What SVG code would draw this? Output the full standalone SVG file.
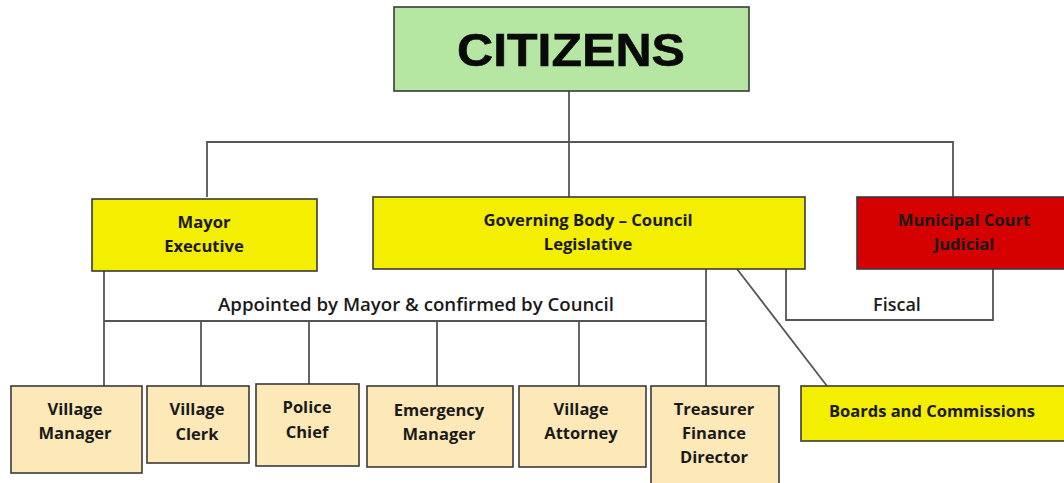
<svg xmlns="http://www.w3.org/2000/svg" width="1064" height="483" viewBox="0 0 1064 483">
  <style>
    .box { stroke: #3a3a3a; stroke-width: 1.6; }
    .green { fill: #b5e6a2; }
    .yellow { fill: #f4ee00; }
    .red { fill: #d50000; }
    .tan { fill: #fde9b7; }
    .lbl { font-family: "Open Sans", "Liberation Sans", sans-serif; font-weight: 700; font-size: 16.6px; fill: #1a1a1a; text-anchor: middle; }
    .small { font-size: 16.5px; }
    .note { font-family: "Open Sans", "Liberation Sans", sans-serif; font-weight: 600; font-size: 18px; fill: #1a1a1a; text-anchor: middle; }
    .title { font-family: "Liberation Sans", Arial, sans-serif; font-weight: 700; font-size: 47px; fill: #0a0a0a; text-anchor: middle; stroke: #0a0a0a; stroke-width: 0.6; }
    .wire { fill: none; stroke: #555555; stroke-width: 1.8; }
  </style>

  <!-- connectors -->
  <g id="connectors" class="wire">
    <path d="M569 91 V142"/>
    <path d="M207 197 V142 H953 V197"/>
    <path d="M569 142 V197"/>
    <!-- appointed staff bus -->
    <path d="M104 271 V386"/>
    <path d="M104 321 H706"/>
    <path d="M706 269 V386"/>
    <path d="M201 321 V386"/>
    <path d="M309 321 V384"/>
    <path d="M437 321 V386"/>
    <path d="M579 321 V386"/>
    <!-- fiscal link -->
    <path d="M786 269 V320 H993 V269"/>
    <!-- boards -->
    <path d="M737 269 L827 386"/>
  </g>
  <text class="note" x="416" y="311" textLength="396" lengthAdjust="spacingAndGlyphs">Appointed by Mayor &amp; confirmed by Council</text>
  <text class="note" x="897" y="311">Fiscal</text>

  <g id="citizens">
    <rect class="box green" x="394" y="7" width="355" height="84"/>
    <text class="title" x="571" y="66" textLength="228" lengthAdjust="spacingAndGlyphs">CITIZENS</text>
  </g>

  <g id="mayor">
    <rect class="box yellow" x="92" y="199" width="225" height="72"/>
    <text class="lbl" x="204" y="228">Mayor</text>
    <text class="lbl" x="204" y="252">Executive</text>
  </g>

  <g id="council">
    <rect class="box yellow" x="373" y="197" width="432" height="72"/>
    <text class="lbl" x="588" y="226">Governing Body – Council</text>
    <text class="lbl" x="588" y="250">Legislative</text>
  </g>

  <g id="court">
    <rect class="box red" x="857" y="197" width="214" height="72"/>
    <text class="lbl" x="964" y="226">Municipal Court</text>
    <text class="lbl" x="964" y="250">Judicial</text>
  </g>

  <g id="village-manager">
    <rect class="box tan" x="11" y="386" width="131" height="87"/>
    <text class="lbl small" x="75" y="415">Village</text>
    <text class="lbl small" x="75" y="439">Manager</text>
  </g>

  <g id="village-clerk">
    <rect class="box tan" x="147" y="386" width="102" height="77"/>
    <text class="lbl small" x="197" y="415">Village</text>
    <text class="lbl small" x="197" y="440">Clerk</text>
  </g>

  <g id="police-chief">
    <rect class="box tan" x="256" y="384" width="103" height="82"/>
    <text class="lbl small" x="307" y="413">Police</text>
    <text class="lbl small" x="307" y="438">Chief</text>
  </g>

  <g id="emergency-manager">
    <rect class="box tan" x="367" y="386" width="146" height="81"/>
    <text class="lbl small" x="439" y="416">Emergency</text>
    <text class="lbl small" x="439" y="440">Manager</text>
  </g>

  <g id="village-attorney">
    <rect class="box tan" x="519" y="386" width="127" height="81"/>
    <text class="lbl small" x="581" y="415">Village</text>
    <text class="lbl small" x="581" y="439">Attorney</text>
  </g>

  <g id="treasurer">
    <rect class="box tan" x="651" y="386" width="128" height="100"/>
    <text class="lbl small" x="714" y="415">Treasurer</text>
    <text class="lbl small" x="714" y="439">Finance</text>
    <text class="lbl small" x="714" y="463">Director</text>
  </g>

  <g id="boards">
    <rect class="box yellow" x="801" y="386" width="270" height="55"/>
    <text class="lbl small" x="932" y="417">Boards and Commissions</text>
  </g>
</svg>
